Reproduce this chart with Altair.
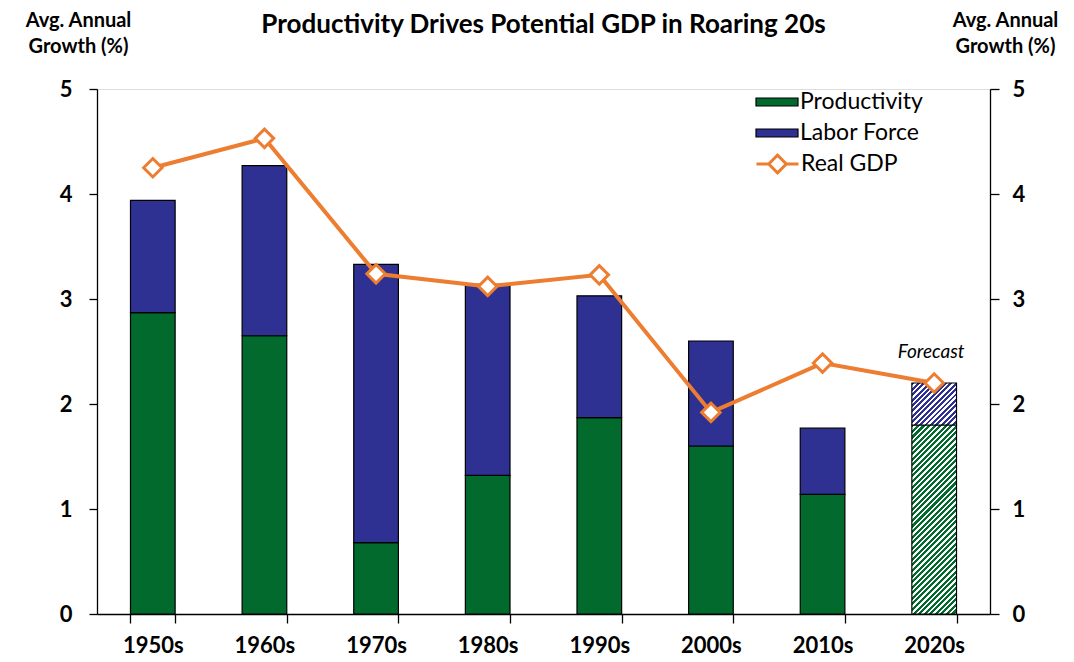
import altair as alt
import pandas as pd

decades = ["1950s", "1960s", "1970s", "1980s", "1990s", "2000s", "2010s", "2020s"]
productivity = [2.87, 2.65, 0.68, 1.32, 1.87, 1.60, 1.14, 1.80]
labor_force = [1.07, 1.62, 2.65, 1.82, 1.16, 1.00, 0.63, 0.40]
real_gdp = [4.25, 4.53, 3.24, 3.12, 3.23, 1.92, 2.39, 2.20]
forecast_decade = "2020s"
forecast_label = "Forecast"

GREEN = "#026A2C"
BLUE = "#2E3192"
ORANGE = "#ED7D31"
FONT = "Lato"

W, H = 893, 525
YMAX = 5

rows = []
for d, p, l in zip(decades, productivity, labor_force):
    rows.append({"decade": d, "series": "Productivity", "y0": 0.0, "y1": p,
                 "forecast": d == forecast_decade})
    rows.append({"decade": d, "series": "Labor Force", "y0": p, "y1": p + l,
                 "forecast": d == forecast_decade})
bars = pd.DataFrame(rows)
line_df = pd.DataFrame({"decade": decades, "gdp": real_gdp, "series": "Real GDP"})
ann_df = pd.DataFrame({"decade": [forecast_decade],
                       "top": [bars[(bars.decade == forecast_decade)].y1.max()],
                       "label": [forecast_label]})

x_enc = alt.X("decade:N", sort=decades,
              scale=alt.Scale(paddingInner=0.6, paddingOuter=0.3),
              axis=alt.Axis(title=None, labelFont=FONT, labelFontSize=22,
                            labelFontWeight="bold", labelColor="black",
                            labelAngle=0, labelPadding=12, tickSize=9,
                            tickBand="extent", domainColor="black",
                            tickColor="black", domainWidth=1.3, tickWidth=1.3))

yscale = alt.Scale(domain=[0, YMAX], nice=False, zero=True)


def hatch(color, w_px, h_px, period=5.5, frac=0.55):
    """diagonal stripe fill approximated with a hard-stop linear gradient"""
    d2 = w_px ** 2 + h_px ** 2
    span = w_px + h_px  # (x + y) distance from top-left to bottom-right corner
    n = max(1, int(round(span / period)))
    stops = []
    for i in range(n):
        a = i / n
        b = (i + frac) / n
        c = (i + 1) / n
        stops += [alt.GradientStop(color=color, offset=a),
                  alt.GradientStop(color=color, offset=b),
                  alt.GradientStop(color="white", offset=b),
                  alt.GradientStop(color="white", offset=c)]
    return alt.LinearGradient(gradient="linear", stops=stops,
                              x1=0, y1=0,
                              x2=span * w_px / d2, y2=span * h_px / d2)


bar_w = W / len(decades) * 0.4
ppu = H / YMAX
fc_p = productivity[decades.index(forecast_decade)]
fc_l = labor_force[decades.index(forecast_decade)]

solid = alt.Chart(bars).transform_filter("!datum.forecast").mark_bar(
    stroke="black", strokeWidth=1.2
).encode(
    x=x_enc,
    y=alt.Y("y0:Q", scale=yscale,
            axis=alt.Axis(title=["Avg. Annual", "Growth (%)"], titleAngle=0,
                          titleX=-19, titleY=-63, titleAlign="center",
                          titleBaseline="alphabetic", titleFont=FONT,
                          titleFontSize=20, titleFontWeight="bold",
                          titleLineHeight=26, titleColor="black",
                          values=[0, 1, 2, 3, 4, 5], format="d", grid=False,
                          labelFont=FONT, labelFontSize=22, labelFontWeight="bold",
                          labelColor="black", labelPadding=17, tickSize=8,
                          domainColor="black", tickColor="black",
                          domainWidth=1.3, tickWidth=1.3)),
    y2="y1:Q",
    fill=alt.Fill("series:N",
                  scale=alt.Scale(domain=["Productivity", "Labor Force"],
                                  range=[GREEN, BLUE]),
                  legend=alt.Legend(title=None, orient="none", legendX=658,
                                    legendY=3, symbolType="M-1,-0.19H1V0.19H-1Z",
                                    symbolSize=1764, symbolStrokeColor="black",
                                    symbolStrokeWidth=1.2, labelFont=FONT,
                                    labelFontSize=23, labelColor="black",
                                    labelOffset=1, clipHeight=20, rowPadding=8,
                                    padding=0)),
)

fc_prod = alt.Chart(bars).transform_filter(
    "datum.forecast && datum.series == 'Productivity'"
).mark_bar(stroke="black", strokeWidth=1.2,
           fill=hatch(GREEN, bar_w, fc_p * ppu)).encode(
    x=alt.X("decade:N", sort=decades),
    y=alt.Y("y0:Q", scale=yscale, axis=None),
    y2="y1:Q",
)

fc_lab = alt.Chart(bars).transform_filter(
    "datum.forecast && datum.series == 'Labor Force'"
).mark_bar(stroke="black", strokeWidth=1.2,
           fill=hatch(BLUE, bar_w, fc_l * ppu)).encode(
    x=alt.X("decade:N", sort=decades),
    y=alt.Y("y0:Q", scale=yscale, axis=None),
    y2="y1:Q",
)

line = alt.Chart(line_df).mark_line(strokeWidth=4).encode(
    x=alt.X("decade:N", sort=decades),
    y=alt.Y("gdp:Q", scale=yscale,
            axis=alt.Axis(orient="right", title=["Avg. Annual", "Growth (%)"],
                          titleAngle=0, titleX=15, titleY=-63, titleAlign="center",
                          titleBaseline="alphabetic", titleFont=FONT,
                          titleFontSize=20, titleFontWeight="bold",
                          titleLineHeight=26, titleColor="black",
                          values=[0, 1, 2, 3, 4, 5], format="d", grid=False,
                          labelFont=FONT, labelFontSize=22, labelFontWeight="bold",
                          labelColor="black", labelPadding=13, tickSize=9,
                          domainColor="black", tickColor="black",
                          domainWidth=1.3, tickWidth=1.3)),
    stroke=alt.Stroke("series:N",
                      scale=alt.Scale(domain=["Real GDP"], range=[ORANGE]),
                      legend=alt.Legend(title=None, orient="none", legendX=658,
                                        legendY=63,
                                        symbolType="M-1,0H-0.42M0.42,0H1M-0.42,0L0,-0.42L0.42,0L0,0.42Z",
                                        symbolSize=1764, symbolFillColor="white",
                                        symbolStrokeWidth=3, labelFont=FONT,
                                        labelFontSize=23, labelColor="black",
                                        labelOffset=1, clipHeight=24,
                                        padding=0)),
)

points = alt.Chart(line_df).mark_point(
    shape="diamond", filled=True, fill="white", stroke=ORANGE,
    strokeWidth=3, size=340, opacity=1
).encode(
    x=alt.X("decade:N", sort=decades),
    y=alt.Y("gdp:Q", scale=yscale, axis=None),
)

ann = alt.Chart(ann_df).mark_text(
    font=FONT, fontSize=19, fontStyle="italic", color="black",
    baseline="middle", align="center", dy=-31, dx=-3
).encode(
    x=alt.X("decade:N", sort=decades),
    y=alt.Y("top:Q", scale=yscale, axis=None),
    text="label:N",
)

chart = alt.layer(solid, fc_prod, fc_lab, line, points, ann).resolve_scale(
    y="independent"
).properties(
    width=W, height=H,
    autosize=alt.AutoSizeParams(type="none"),
    padding={"left": 89, "top": 81, "right": 76, "bottom": 48},
    title=alt.TitleParams("Productivity Drives Potential GDP in Roaring 20s",
                          font=FONT, fontSize=26, fontWeight="bold",
                          color="black", anchor="middle", dy=32),
).configure_view(stroke=None).configure(background="white")

chart.save("out.html", embed_options={"renderer": "svg", "actions": False})
